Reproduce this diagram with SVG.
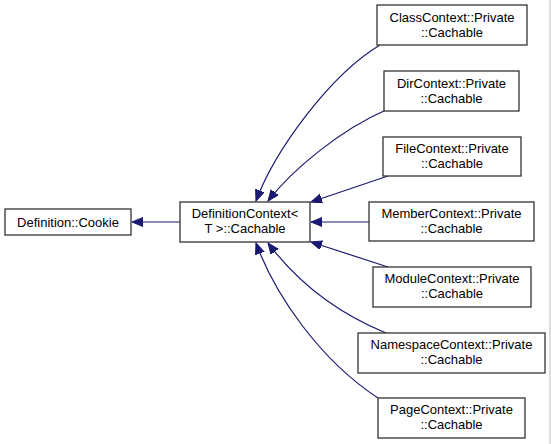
<svg xmlns="http://www.w3.org/2000/svg" width="551" height="444" viewBox="0 0 551 444">
<style>
.node rect{fill:#fff;stroke:#333;stroke-width:1.3}
.node text{font-family:"Liberation Sans",Arial,sans-serif;font-size:13px;fill:#000;text-anchor:middle}
.edge path{fill:none;stroke:#191970;stroke-width:1.2}
</style>
<defs>
<marker id="ah" markerUnits="userSpaceOnUse" markerWidth="12" markerHeight="10" refX="11" refY="4.5" orient="auto">
<path d="M0,0 L11,4.5 L0,9 z" fill="#191970" stroke="#191970"/>
</marker>
</defs>
<rect width="551" height="444" fill="#fff"/>
<line x1="550" y1="0" x2="550" y2="444" stroke="#bbb" stroke-width="1"/>
<g id="edges" class="edge">
<path d="M180,222 H132" marker-end="url(#ah)"/>
<path d="M380,45 C330,75 275,150 256,201" marker-end="url(#ah)"/>
<path d="M386,110 C340,130 292,170 268,201" marker-end="url(#ah)"/>
<path d="M388,176 L311,202" marker-end="url(#ah)"/>
<path d="M369,222 L311,222" marker-end="url(#ah)"/>
<path d="M388,267 L311,242" marker-end="url(#ah)"/>
<path d="M386,333 C330,310 292,275 268,243" marker-end="url(#ah)"/>
<path d="M378,398 C320,360 275,295 256,243" marker-end="url(#ah)"/>
</g>
<g id="cookie" class="node"><rect x="5" y="209" width="126" height="26"/><text x="68" y="227">Definition::Cookie</text></g>
<g id="defctx" class="node"><rect x="180" y="202" width="130" height="40"/><text x="245" y="218">DefinitionContext&lt;</text><text x="245" y="233">T &gt;::Cachable</text></g>
<g id="classctx" class="node"><rect x="377" y="5" width="150" height="40"/><text x="452" y="22">ClassContext::Private</text><text x="452" y="37">::Cachable</text></g>
<g id="dirctx" class="node"><rect x="384" y="71" width="135" height="40"/><text x="451.5" y="88">DirContext::Private</text><text x="451.5" y="103">::Cachable</text></g>
<g id="filectx" class="node"><rect x="383" y="137" width="138" height="39"/><text x="452" y="153">FileContext::Private</text><text x="452" y="168">::Cachable</text></g>
<g id="memberctx" class="node"><rect x="369" y="202" width="165" height="39"/><text x="451.5" y="218">MemberContext::Private</text><text x="451.5" y="233">::Cachable</text></g>
<g id="modulectx" class="node"><rect x="373" y="267" width="158" height="40"/><text x="452" y="283">ModuleContext::Private</text><text x="452" y="298">::Cachable</text></g>
<g id="nsctx" class="node"><rect x="358" y="333" width="187" height="40"/><text x="451.5" y="349">NamespaceContext::Private</text><text x="451.5" y="364">::Cachable</text></g>
<g id="pagectx" class="node"><rect x="378" y="398" width="147" height="40"/><text x="451.5" y="414">PageContext::Private</text><text x="451.5" y="429">::Cachable</text></g>
</svg>
